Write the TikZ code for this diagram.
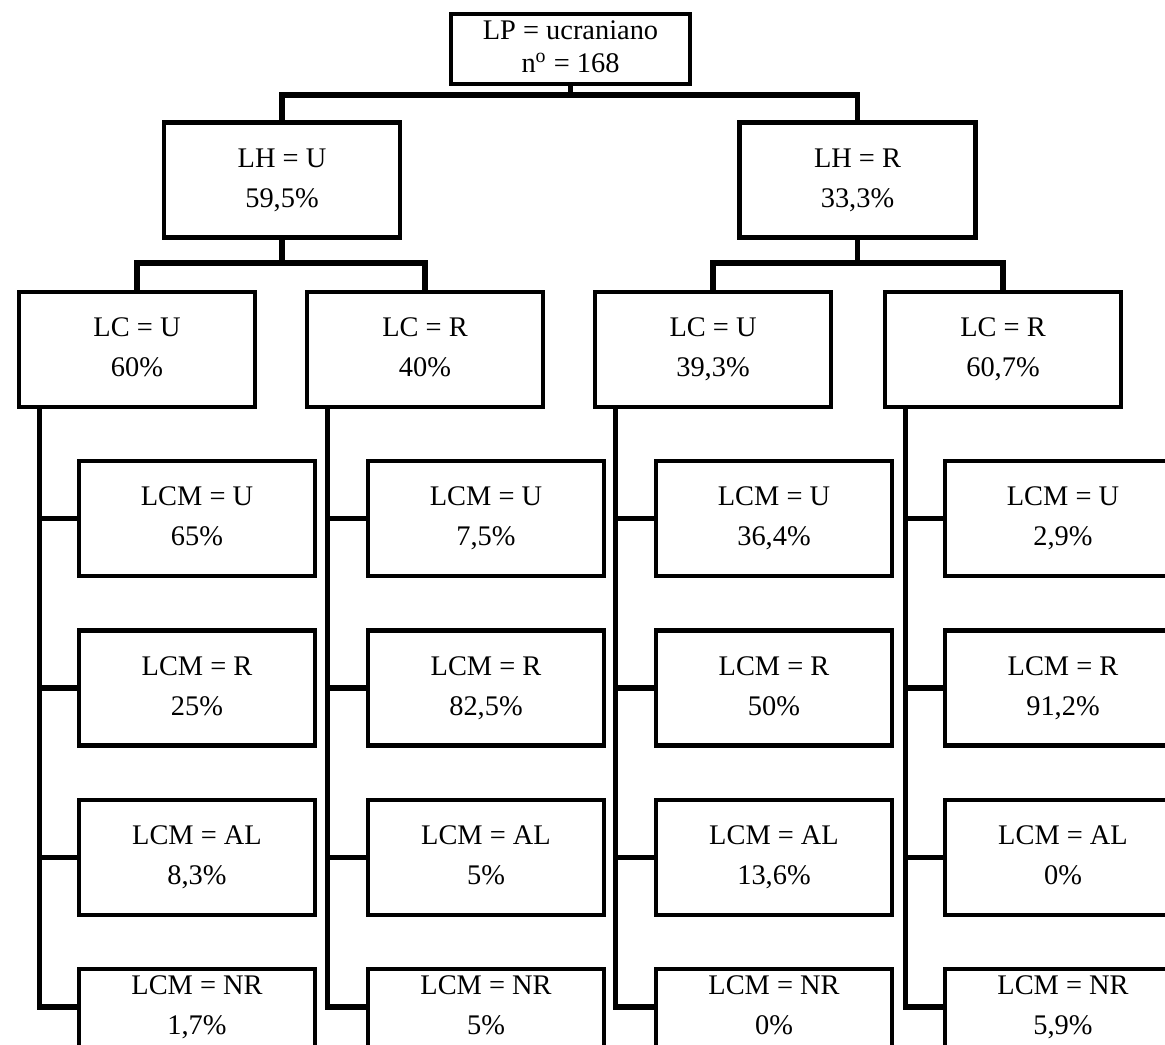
\documentclass[tikz,border=0pt]{standalone}
\usepackage{fontspec}
\setmainfont{Liberation Serif}
\usetikzlibrary{positioning}
\tikzset{
  box/.style={draw=black, line width=2.4pt, fill=white, align=center, inner sep=0pt,
              minimum width=118pt, minimum height=57.5pt, font=\fontsize{14.2}{20}\selectfont,
              execute at end node=\vphantom{,}},
  rootbox/.style={box, minimum width=119.5pt, minimum height=35pt, font=\fontsize{14.2}{16.5}\selectfont},
  lastbox/.style={box, draw=none, outer sep=0pt, minimum height=38pt},
  frame/.style={draw=black, line width=2.4pt, line join=miter},
  link/.style={draw=black, line width=2.6pt, line join=miter},
}

\begin{document}
\begin{tikzpicture}[x=0.5pt,y=-0.5pt]
  \useasboundingbox (0,0) rectangle (1165,1044);
  \clip (0,0) rectangle (1165,1044);

  % ── root and LH level ──
  \node[rootbox] (P) at (570.5,49) {LP = ucraniano\\n\textsuperscript{o} = 168};
  \node[box] (H1) at (282,180) {LH = U\\59,5\%};
  \node[box] (H2) at (857.5,180) {LH = R\\33,3\%};

  % ── LC level ──
  \node[box] (C1) at (137,349.5) {LC = U\\60\%};
  \node[box] (C2) at (425,349.5) {LC = R\\40\%};
  \node[box] (C3) at (713,349.5) {LC = U\\39,3\%};
  \node[box] (C4) at (1003,349.5) {LC = R\\60,7\%};

  % ── LCM level: one column under each LC box ──
  \foreach \c/\cx/\u/\r/\al/\nr in {1/197/65/25/{8,3}/{1,7},
                                   2/486/{7,5}/{82,5}/5/5,
                                   3/774/{36,4}/50/{13,6}/0,
                                   4/1063/{2,9}/{91,2}/0/{5,9}} {
    \node[box]     (M\c1) at (\cx,518.5) {LCM = U\\\u\%};
    \node[box]     (M\c2) at (\cx,688)   {LCM = R\\\r\%};
    \node[box]     (M\c3) at (\cx,857.5) {LCM = AL\\\al\%};
    \node[lastbox] (M\c4) at (\cx,1007)  {LCM = NR\\\nr\%};
    % last box runs off the page, so its bottom edge is not shown
    \draw[frame] ([yshift=-12pt]M\c4.south west) |- (M\c4.north east)
      -- ([yshift=-12pt]M\c4.south east);
  }

  % ── connectors ──
  \coordinate (busP) at (570.5,95);
  \draw[link] (P.south) -- (busP);
  \draw[link] (H1.north) |- (busP) -| (H2.north);

  \coordinate (busH1) at (282,263);
  \coordinate (busH2) at (857.5,263);
  \draw[link] (H1.south) -- (busH1);
  \draw[link] (H2.south) -- (busH2);
  \draw[link] (C1.north) |- (busH1) -| (C2.north);
  \draw[link] (C3.north) |- (busH2) -| (C4.north);

  \foreach \c in {1,2,3,4} {
    \coordinate (S\c) at ([xshift=11.5pt]C\c.south west);
    \draw[link] (S\c) |- (M\c4.west);
    \foreach \r in {1,2,3}
      \draw[link] (M\c\r.west) -- (M\c\r.west -| S\c);
  }
\end{tikzpicture}
\end{document}
